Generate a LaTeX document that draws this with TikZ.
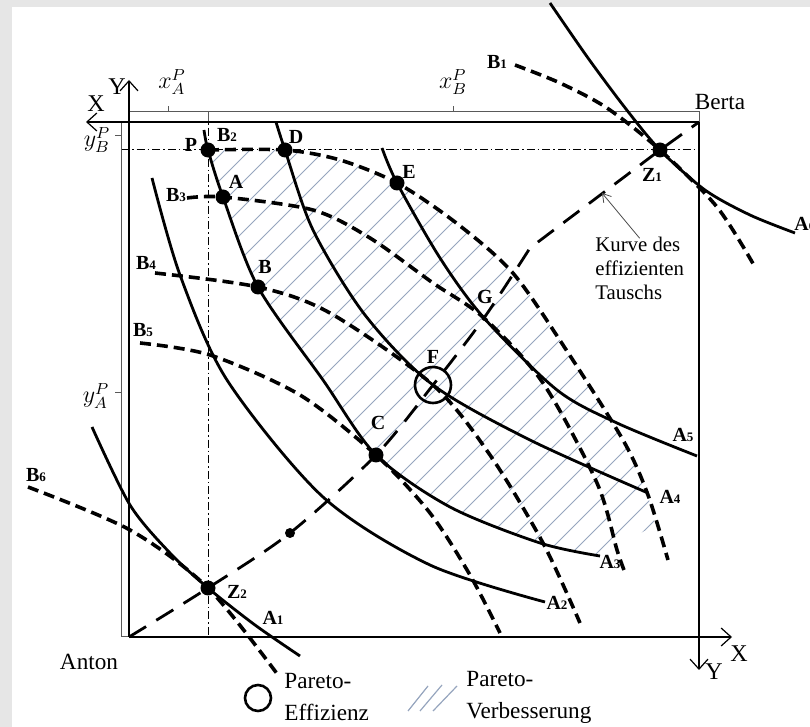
\documentclass[tikz,border=0pt]{standalone}
\usepackage{fontspec}
\setmainfont{Liberation Serif}
\usepackage{xcolor}
\usepackage{tikz}
\usetikzlibrary{arrows.meta,positioning}

\definecolor{hatchblue}{RGB}{150,165,190}
\definecolor{panelgray}{RGB}{230,230,230}
\newcommand{\labfont}{\fontsize{10}{12}\selectfont\bfseries}
\newcommand{\sub}[1]{{\fontsize{6.5}{7}\selectfont #1}}

\begin{document}
\begin{tikzpicture}[
  x=0.5pt, y=-0.5pt,
  indiffA/.style={line width=1.4pt},
  indiffB/.style={line width=1.8pt, dash pattern=on 5.5pt off 3pt},
  contract/.style={line width=1.4pt, dash pattern=on 10pt off 6pt},
  axis/.style={line width=0.6pt, -{Straight Barb[length=5pt,width=9pt]}},
  bracket/.style={line width=0.5pt, gray!70!black},
  guide/.style={line width=0.5pt, dash pattern=on 4pt off 1.5pt on 0.8pt off 1.5pt},
  pointer/.style={line width=0.4pt, gray!60!black, -{Straight Barb[length=4pt,width=5pt]}},
  dot/.style={circle, fill, inner sep=0pt, minimum size=7.5pt},
  smalldot/.style={circle, fill, inner sep=0pt, minimum size=5pt},
  ring/.style={circle, draw, line width=1.3pt, inner sep=0pt},
  lab/.style={font=\labfont, inner sep=0pt},
  axlab/.style={font=\fontsize{12}{14}\selectfont, inner sep=0pt},
  hatch/.style={hatchblue, line width=0.45pt},
  note/.style={font=\fontsize{10.4}{12}\selectfont, align=left, inner sep=0pt},
  legend/.style={font=\fontsize{11.6}{16}\selectfont, align=left, inner sep=0pt}
]
  \useasboundingbox (0,0) rectangle (810,727);
  \clip (0,0) rectangle (810,727);
  \fill[panelgray] (0,0) rectangle (810,727);
  \fill[white] (12,7) rectangle (810,727);

  \coordinate (o_anton) at (129,637);
  \coordinate (o_berta) at (699,122);
  \coordinate (P) at (208,150);
  \coordinate (D) at (285,150);
  \coordinate (E) at (397,183);
  \coordinate (A) at (223,197);
  \coordinate (B) at (258,287);
  \coordinate (C) at (376,455);
  \coordinate (F) at (433,385);
  \coordinate (G) at (484,318);
  \coordinate (Z1) at (660,150);
  \coordinate (Z2) at (208,588);
  \coordinate (m_low) at (290,533);
  \coordinate (c_kurve) at (602,193);

  % Pareto-Verbesserung
  \begin{scope}
    \clip plot[smooth] coordinates {(P) (A) (B) (323,380) (C) (450,507) (540,543) (600,556)}
      -- (655,525)
      -- plot[smooth] coordinates {(648,495) (623,440) (563,345) (512,272) (455,222) (E) (340,160) (D) (P)} -- cycle;
    \foreach \i in {-275,-250,...,675}
      \draw[hatch] (\i,600) -- ++(460,-460);
  \end{scope}

  \draw[guide] (121,150) -- (o_berta |- P);
  \draw[guide] (208,112) -- (P |- o_anton);

  \draw[bracket] (129,122) -- (129,112) -- (208,112) -- (208,122);
  \draw[bracket] (208,112) -- (699,112) -- (o_berta);
  \draw[bracket] (168,112) -- (168,106);
  \draw[bracket] (453,112) -- (453,106);
  \draw[bracket] (129,122) -- (121,122) -- (121,637) -- (o_anton);
  \draw[bracket] (121,136) -- (115,136);
  \draw[bracket] (121,393) -- (115,393);

  \draw[axis] (o_anton) -- (732,637);
  \draw[axis] (o_anton) -- (129,80);
  \draw[axis] (o_berta) -- (86,122);
  \draw[axis] (o_berta) -- (699,670);

  \draw[indiffA] plot[smooth] coordinates {(92,427) (130,505) (170,553) (Z2) (255,625) (300,656)};
  \draw[indiffA] plot[smooth] coordinates {(152,178) (180,275) (227,380) (323,497) (430,565) (545,602)};
  \draw[indiffA] plot[smooth] coordinates {(204,130) (P) (A) (B) (323,380) (C) (450,507) (540,543) (600,556)};
  \draw[indiffA] plot[smooth] coordinates {(276,122) (D) (313,230) (365,315) (F) (530,440) (648,493)};
  \draw[indiffA] plot[smooth] coordinates {(382,148) (E) (440,258) (G) (557,390) (617,423) (697,456)};
  \draw[indiffA] plot[smooth] coordinates {(550,3) (588,58) (626,109) (Z1) (705,190) (750,215) (795,233)};

  \draw[indiffB] plot[smooth] coordinates {(515,65) (560,83) (607,108) (Z1) (717,207) (755,267)};
  \draw[indiffB] plot[smooth] coordinates {(P) (D) (340,160) (E) (455,222) (512,272) (563,345) (623,440) (648,495) (668,560)};
  \draw[indiffB] plot[smooth] coordinates {(187,198) (A) (313,210) (370,238) (433,283) (G) (543,383) (597,483) (617,550) (624,570)};
  \draw[indiffB] plot[smooth] coordinates {(155,273) (B) (330,313) (F) (490,455) (543,543) (580,623)};
  \draw[indiffB] plot[smooth] coordinates {(140,343) (210,355) (300,395) (C) (430,513) (470,575) (500,633)};
  \draw[indiffB] plot[smooth] coordinates {(28,487) (130,530) (Z2) (278,675)};

  \draw[contract] plot[smooth] coordinates {(o_anton) (Z2) (m_low) (C) (F) (G) (530,248)} -- (Z1) -- (o_berta);

  \node[dot] (d_P) at (P) {};
  \node[dot] (d_D) at (D) {};
  \node[dot] (d_E) at (E) {};
  \node[dot] (d_A) at (A) {};
  \node[dot] (d_B) at (B) {};
  \node[dot] (d_C) at (C) {};
  \node[dot] (d_Z1) at (Z1) {};
  \node[dot] (d_Z2) at (Z2) {};
  \node[smalldot] (d_low) at (m_low) {};
  \node[ring, minimum size=18pt] (d_F) at (F) {};

  \node[lab] (l_P) at (191,145) {P};
  \node[lab] (l_D) at (296,137) {D};
  \node[lab] (l_E) at (409,172) {E};
  \node[lab] (l_A) at (236,182) {A};
  \node[lab] (l_B) at (265,267) {B};
  \node[lab] (l_C) at (378,423) {C};
  \node[lab] (l_F) at (433,357) {F};
  \node[lab] (l_G) at (485,297) {G};
  \node[lab] (l_Z1) at (652,175) {Z\sub{1}};
  \node[lab] (l_Z2) at (237,592) {Z\sub{2}};

  \node[lab] (l_A1) at (273,618) {A\sub{1}};
  \node[lab] (l_A2) at (557,603) {A\sub{2}};
  \node[lab] (l_A3) at (610,562) {A\sub{3}};
  \node[lab] (l_A4) at (670,497) {A\sub{4}};
  \node[lab] (l_A5) at (683,435) {A\sub{5}};
  \node[lab, anchor=west] (l_A6) at (794,224) {A\sub{6}};
  \node[lab] (l_B1) at (497,62) {B\sub{1}};
  \node[lab] (l_B2) at (227,135) {B\sub{2}};
  \node[lab] (l_B3) at (176,195) {B\sub{3}};
  \node[lab] (l_B4) at (146,263) {B\sub{4}};
  \node[lab] (l_B5) at (143,330) {B\sub{5}};
  \node[lab] (l_B6) at (36,475) {B\sub{6}};

  \node[axlab] (l_xA) at (172,82) {$x_A^P$};
  \node[axlab] (l_xB) at (453,82) {$x_B^P$};
  \node[axlab] (l_yB) at (97,140) {$y_B^P$};
  \node[axlab] (l_yA) at (96,396) {$y_A^P$};
  \node[axlab] (l_Xb) at (96,104) {X};
  \node[axlab] (l_Ya) at (117,87) {Y};
  \node[axlab] (l_Xa) at (739,654) {X};
  \node[axlab] (l_Yb) at (714,672) {Y};
  \node[legend] (l_anton) at (89,662) {Anton};
  \node[legend] (l_berta) at (720,102) {Berta};

  \node[note, anchor=west] (t_kurve) at (595,268) {Kurve des\\effizienten\\Tauschs};
  \draw[pointer] ([yshift=-1pt]t_kurve.north) -- (c_kurve);

  \node[ring, minimum size=13pt] (k_ring) at (258,698) {};
  \node[legend, anchor=west] (k_eff) at (284,697) {Pareto-\\Effizienz};
  \draw[hatch, line width=0.6pt] (408,711) -- (428,686);
  \draw[hatch, line width=0.6pt] (420,711) -- (442,685);
  \draw[hatch, line width=0.6pt] (433,711) -- (457,686);
  \node[legend, anchor=west] (k_verb) at (466,697) {Pareto-\\Verbesserung};
\end{tikzpicture}
\end{document}
